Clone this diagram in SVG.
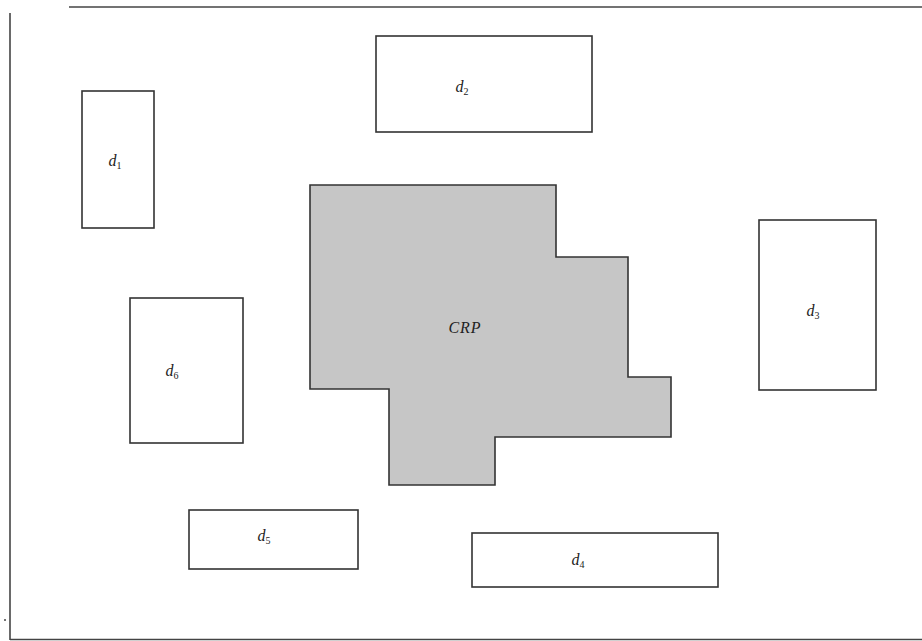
<svg xmlns="http://www.w3.org/2000/svg" width="922" height="641" viewBox="0 0 922 641">
<style>
.box{fill:#fff;stroke:#333;stroke-width:1.6}
.crp{fill:#c6c6c6;stroke:#333;stroke-width:1.6}
.frame{fill:none;stroke:#444;stroke-width:1.6}
.lbl{font-family:"Liberation Serif",serif;font-style:italic;font-size:16px;fill:#222;text-anchor:middle}
.sub{font-size:10px;font-style:normal}
</style>
<rect width="922" height="641" fill="#fff"/>
<g id="frame">
<line class="frame" x1="69" y1="7" x2="922" y2="7"/>
<line class="frame" x1="10" y1="13" x2="10" y2="640"/>
<line class="frame" x1="10" y1="639.5" x2="922" y2="639.5"/>
<circle cx="5" cy="620" r="1" fill="#444"/>
</g>
<g id="crp">
<polygon class="crp" points="310,185 556,185 556,257 628,257 628,377 671,377 671,437 495,437 495,485 389,485 389,389 310,389"/>
<text class="lbl" x="465" y="333" style="letter-spacing:1px">CRP</text>
</g>
<g id="d1">
<rect class="box" x="82" y="91" width="72" height="137"/>
<text class="lbl" x="115" y="166">d<tspan class="sub" dy="3">1</tspan></text>
</g>
<g id="d2">
<rect class="box" x="376" y="36" width="216" height="96"/>
<text class="lbl" x="462" y="92">d<tspan class="sub" dy="3">2</tspan></text>
</g>
<g id="d3">
<rect class="box" x="759" y="220" width="117" height="170"/>
<text class="lbl" x="813" y="316">d<tspan class="sub" dy="3">3</tspan></text>
</g>
<g id="d4">
<rect class="box" x="472" y="533" width="246" height="54"/>
<text class="lbl" x="578" y="565">d<tspan class="sub" dy="3">4</tspan></text>
</g>
<g id="d5">
<rect class="box" x="189" y="510" width="169" height="59"/>
<text class="lbl" x="264" y="541">d<tspan class="sub" dy="3">5</tspan></text>
</g>
<g id="d6">
<rect class="box" x="130" y="298" width="113" height="145"/>
<text class="lbl" x="172" y="376">d<tspan class="sub" dy="3">6</tspan></text>
</g>
<g id="connectors"></g>
</svg>
